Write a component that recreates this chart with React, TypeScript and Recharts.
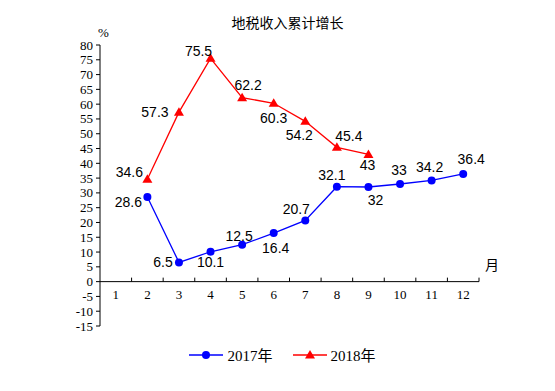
import { Legend, Line, LineChart, ReferenceLine, XAxis, YAxis } from "recharts";

const months = ["1", "2", "3", "4", "5", "6", "7", "8", "9", "10", "11", "12"];
const growth2017 = [null, 28.6, 6.5, 10.1, 12.5, 16.4, 20.7, 32.1, 32, 33, 34.2, 36.4];
const growth2018 = [null, 34.6, 57.3, 75.5, 62.2, 60.3, 54.2, 45.4, 43, null, null, null];
const yTicks = [-15, -10, -5, 0, 5, 10, 15, 20, 25, 30, 35, 40, 45, 50, 55, 60, 65, 70, 75, 80];

const data = months.map((month, i) => ({
  month,
  y2017: growth2017[i],
  y2018: growth2018[i],
}));

// label placement relative to each point (layout only)
const offsets2017: [number, number][] = [
  [0, 0], [-19, 5], [-16, 0], [0, 10], [-3, -9], [2, 15],
  [-9, -11], [-5, -12], [7, 13], [-1, -14], [-2, -13], [8, -15],
];
const offsets2018: [number, number][] = [
  [0, 0], [-18, -7], [-24, 0], [-12, -7], [6, -13], [0, 15],
  [-6, 14], [12, -11], [-1, 11], [0, 0], [0, 0], [0, 0],
];

const W = 555;
const H = 391;
const margin = { top: 45, right: 76, bottom: 15, left: 60 };
const yAxisWidth = 40;
const plotLeft = margin.left + yAxisWidth;
const plotRight = W - margin.right;
const bw = (plotRight - plotLeft) / months.length;
const plotTop = margin.top;
const plotBottom = 326;
const yMin = -15;
const yMax = 80;
const y0 = plotTop + ((plotBottom - plotTop) * yMax) / (yMax - yMin);

const serif = "'Liberation Serif', 'Times New Roman', 'Noto Sans CJK SC', serif";
const sans = "'Liberation Sans', Arial, sans-serif";

function MonthTick(props: any) {
  const { x, payload, index } = props;
  const left = x - bw / 2;
  const right = x + bw / 2;
  return (
    <g>
      {index > 0 && <line x1={left} x2={left} y1={y0} y2={y0 - 4} stroke="#000" />}
      {index === months.length - 1 && (
        <line x1={right} x2={right} y1={y0} y2={y0 - 4} stroke="#000" />
      )}
      <text
        x={x}
        y={y0 + 13}
        textAnchor="middle"
        dominantBaseline="central"
        fontSize={13}
        style={{ fontFamily: serif }}
        fill="#000"
      >
        {payload.value}
      </text>
    </g>
  );
}

function ValueTick(props: any) {
  const { x, y, payload } = props;
  return (
    <text
      x={x}
      y={y}
      textAnchor="end"
      dominantBaseline="central"
      fontSize={13}
      style={{ fontFamily: serif }}
      fill="#000"
    >
      {payload.value}
    </text>
  );
}

function makeLabel(offsets: [number, number][]) {
  return (props: any) => {
    const { x, y, value, index } = props;
    if (value == null || x == null || y == null) return null;
    const [dx, dy] = offsets[index] ?? [0, -12];
    return (
      <text
        x={x + dx}
        y={y + dy}
        textAnchor="middle"
        dominantBaseline="central"
        fontSize={14}
        style={{ fontFamily: sans }}
        fill="#000"
      >
        {value}
      </text>
    );
  };
}

function Triangle(props: any) {
  const { cx, cy, fill } = props;
  if (cx == null || cy == null) return null;
  return (
    <polygon
      points={`${cx},${cy - 5} ${cx - 5},${cy + 3.5} ${cx + 5},${cy + 3.5}`}
      fill={fill}
    />
  );
}

function LegendContent() {
  const items = [
    { name: "2017年", color: "#0000ff", shape: "circle" },
    { name: "2018年", color: "#ff0000", shape: "triangle" },
  ];
  return (
    <div style={{ display: "flex", justifyContent: "center", gap: 20, fontFamily: serif, fontSize: 15 }}>
      {items.map((item) => (
        <div key={item.name} style={{ display: "flex", alignItems: "center" }}>
          <svg width={34} height={12} style={{ marginRight: 4 }}>
            <line x1={0} x2={34} y1={6} y2={6} stroke={item.color} strokeWidth={1.3} />
            {item.shape === "circle" ? (
              <circle cx={17} cy={6} r={4} fill={item.color} />
            ) : (
              <polygon points="17,1 12,9.5 22,9.5" fill={item.color} />
            )}
          </svg>
          <span>{item.name}</span>
        </div>
      ))}
    </div>
  );
}

export default function App() {
  return (
    <div style={{ position: "absolute", left: 0, top: 0, width: W, height: H, background: "#fff" }}>
      <div
        style={{
          position: "absolute",
          left: 0,
          width: W,
          top: 12,
          textAlign: "center",
          paddingLeft: 20,
          boxSizing: "border-box",
          fontFamily: serif,
          fontSize: 14,
        }}
      >
        地税收入累计增长
      </div>
      <div style={{ position: "absolute", left: 98, top: 25, fontFamily: serif, fontSize: 13 }}>%</div>
      <div style={{ position: "absolute", left: 485, top: 254, fontFamily: serif, fontSize: 14 }}>月</div>
      <LineChart width={W} height={H} data={data} margin={margin}>
        <XAxis
          dataKey="month"
          scale="band"
          height={30}
          axisLine={false}
          tickLine={false}
          tick={<MonthTick />}
          interval={0}
        />
        <YAxis
          width={yAxisWidth}
          domain={[yMin, yMax]}
          ticks={yTicks}
          interval={0}
          tickSize={4}
          tickMargin={3}
          axisLine={{ stroke: "#000" }}
          tickLine={{ stroke: "#000" }}
          tick={<ValueTick />}
        />
        <ReferenceLine y={0} stroke="#000" />
        <Line
          dataKey="y2017"
          name="2017年"
          stroke="#0000ff"
          strokeWidth={1.3}
          dot={{ r: 4, fill: "#0000ff", stroke: "none" }}
          label={makeLabel(offsets2017)}
          isAnimationActive={false}
        />
        <Line
          dataKey="y2018"
          name="2018年"
          stroke="#ff0000"
          strokeWidth={1.3}
          dot={<Triangle fill="#ff0000" />}
          label={makeLabel(offsets2018)}
          isAnimationActive={false}
        />
        <Legend
          verticalAlign="bottom"
          height={20}
          content={<LegendContent />}
          wrapperStyle={{ position: "absolute", left: 0, width: W, top: 344, paddingLeft: 10, boxSizing: "border-box" }}
        />
      </LineChart>
    </div>
  );
}
